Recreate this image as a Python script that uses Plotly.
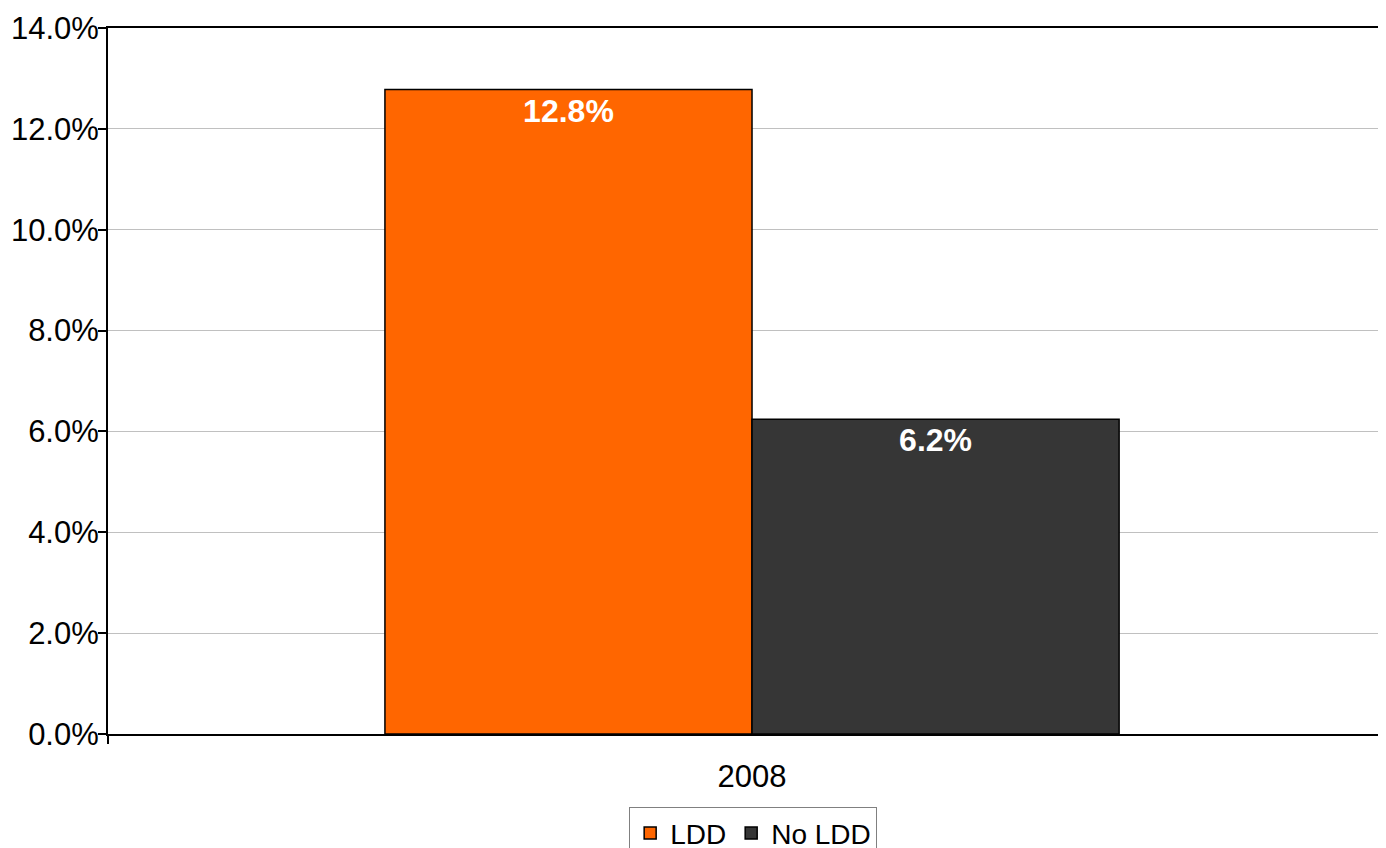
import plotly.graph_objects as go

categories = ["2008"]
series_names = ["LDD", "No LDD"]
ldd_values = [12.78]
no_ldd_values = [6.24]
colors = ["#FF6600", "#363636"]

FONT = "Liberation Sans, Arial, sans-serif"

fig = go.Figure()
for name, vals, col in zip(series_names, [ldd_values, no_ldd_values], colors):
    fig.add_trace(go.Bar(
        x=categories, y=vals, name=name,
        marker=dict(color=col, line=dict(color="black", width=1.5)),
        texttemplate="%{y:.1f}%", textposition="inside", insidetextanchor="end",
        textfont=dict(family=FONT, size=32, color="white", weight="bold"),
        cliponaxis=False,
    ))

fig.update_layout(
    width=1370, height=848,
    margin=dict(l=100, r=0, t=20, b=122, autoexpand=False),
    paper_bgcolor="white", plot_bgcolor="white",
    barmode="group", bargap=0.43, bargroupgap=0,
    font=dict(family=FONT, size=31, color="black"),
    showlegend=True,
    legend=dict(orientation="h", x=0.508, xanchor="center", y=-0.104, yanchor="top",
                bordercolor="#808080", borderwidth=1, font=dict(size=28),
                tracegroupgap=0),
    uniformtext=dict(mode="show", minsize=32),
)
fig.update_xaxes(
    type="category", range=[-0.5, 0.486], automargin=False,
    showline=True, linecolor="black", linewidth=2,
    mirror=True,
    ticks="outside", tickson="boundaries", ticklen=8, tickcolor="black", tickwidth=1.5,
    showgrid=False, tickfont=dict(size=31), ticklabelstandoff=14,
)
fig.update_yaxes(
    range=[0, 14], dtick=2, tickformat=".1f", ticksuffix="%", automargin=False,
    showline=True, linecolor="black", linewidth=2,
    ticks="outside", ticklen=8, tickcolor="black", tickwidth=1.5,
    showgrid=True, gridcolor="#c0c0c0", gridwidth=1,
    tickfont=dict(size=31), zeroline=False, ticklabelstandoff=-7,
)

fig.write_html("out.html")
